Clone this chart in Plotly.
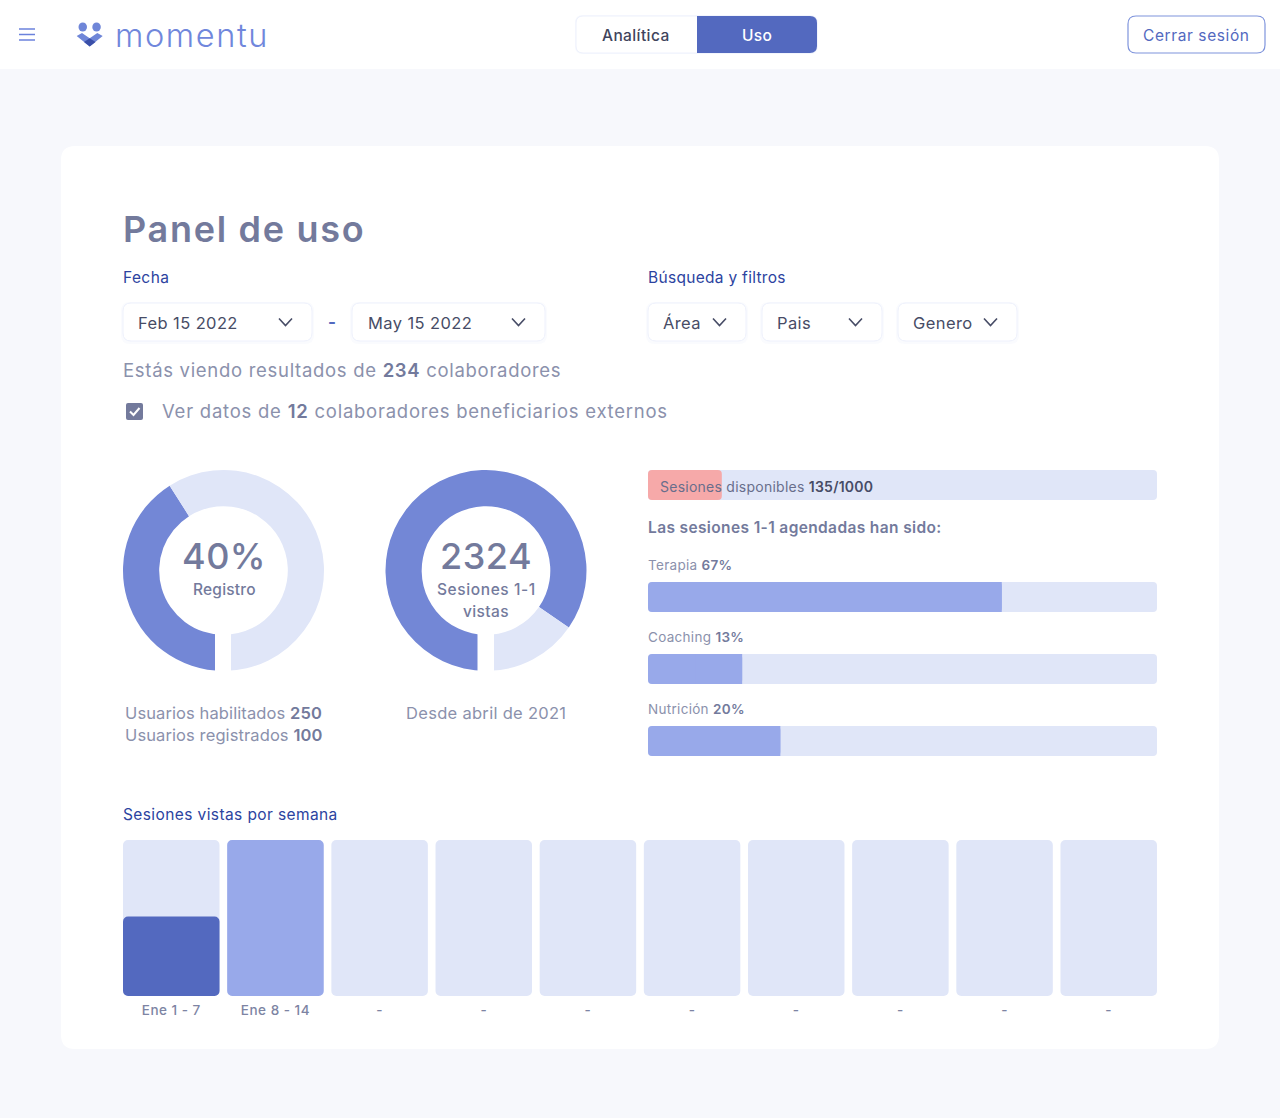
"""
Panel de uso (momentu): usage dashboard rebuilt as one Plotly figure.
The whole page is one pixel-sized axis, the charts are extra subplots on top of it.
"""
import plotly.graph_objects as go

W, H = 1280, 1118

# --- data ---
registro_vals = [41, 59]
sesiones_vals = [84.6, 15.4]

disponibles_fill = [14.5]
disponibles_track = [100]

tipo_labels = ["Terapia", "Coaching", "Nutrición"]
tipo_pct = ["67%", "13%", "20%"]
tipo_fill = [69.5, 18.5, 26]
tipo_track = [100, 100, 100]

semana_labels = ["Ene 1 - 7", "Ene 8 - 14", "-", "-", "-", "-", "-", "-", "-", "-"]
semana_track = [100, 100, 100, 100, 100, 100, 100, 100, 100, 100]
semana_vistas = [51, 100, 0, 0, 0, 0, 0, 0, 0, 0]
semana_colors = ["#5369bf", "#98a9ea", "#98a9ea", "#98a9ea", "#98a9ea",
                 "#98a9ea", "#98a9ea", "#98a9ea", "#98a9ea", "#98a9ea"]

# --- colours / fonts ---
BG = "#f7f8fc"
TRACK = "#e0e6f8"
DONUT = "#7387d6"
BAR = "#98a9ea"
NAVY = "#2c43a0"
GREY = "#737a9c"
SOFT = "#8b91ac"
INK = "#474c66"
FONT = "Inter"

fig = go.Figure()
annotations, shapes = [], []


def round_rect(x0, y0, x1, y1, r, fill=None, line=None, lw=1, layer="below", opacity=1, corners="tl tr br bl"):
    tl = r if "tl" in corners else 0
    tr = r if "tr" in corners else 0
    br = r if "br" in corners else 0
    bl = r if "bl" in corners else 0
    path = (f"M{x0 + tl},{y0} L{x1 - tr},{y0} Q{x1},{y0} {x1},{y0 + tr} "
            f"L{x1},{y1 - br} Q{x1},{y1} {x1 - br},{y1} "
            f"L{x0 + bl},{y1} Q{x0},{y1} {x0},{y1 - bl} "
            f"L{x0},{y0 + tl} Q{x0},{y0} {x0 + tl},{y0} Z")
    shapes.append(dict(type="path", path=path, xref="x", yref="y", layer=layer, opacity=opacity,
                       fillcolor=fill or "rgba(0,0,0,0)",
                       line=dict(color=line or "rgba(0,0,0,0)", width=lw if line else 0)))


def poly(path, fill=None, line=None, lw=1.5, layer="below"):
    shapes.append(dict(type="path", path=path, xref="x", yref="y", layer=layer,
                       fillcolor=fill or "rgba(0,0,0,0)",
                       line=dict(color=line or "rgba(0,0,0,0)", width=lw if line else 0)))


def text(x, y, s, size, color, anchor="left", spacing=0, weight=400, family=FONT):
    if spacing:
        s = f'<span style="letter-spacing:{spacing}px">{s}</span>'
    annotations.append(dict(x=x, y=y, xref="x", yref="y", text=s, showarrow=False,
                            xanchor=anchor, yanchor="middle", align=anchor,
                            borderpad=0, borderwidth=0,
                            font=dict(size=size, color=color, family=family, weight=weight)))


def b(s, color=None):
    style = "font-weight:600"
    if color:
        style += f";fill:{color}"
    return f'<span style="{style}">{s}</span>'


def chevron(x, y, color=INK):
    poly(f"M{x},{y - 3.5} L{x + 6.5},{y + 3.5} L{x + 13},{y - 3.5}", line=color, lw=1.6)


def dropdown(x0, x1, label, label_x, chev_x):
    round_rect(x0 - 2, 302, x1 + 2, 344, 9, fill="#e6eafb", opacity=0.2)
    round_rect(x0, 303, x1, 341, 8, fill="white", line="#eef1fc")
    text(label_x, 322.5, label, 16.5, INK, spacing=0.4)
    chevron(chev_x, 322)


# --- page chrome ---
shapes.append(dict(type="rect", xref="x", yref="y", x0=0, x1=W, y0=0, y1=69, layer="below",
                   fillcolor="white", line=dict(width=0)))
round_rect(61, 146, 1219, 1049, 14, fill="white")

for ly in (29, 34.5, 40):
    poly(f"M19,{ly} L35,{ly}", line="#6b82dc", lw=1.5)

# logo
shapes.append(dict(type="circle", xref="x", yref="y", x0=78.5, x1=87, y0=22.5, y1=31.5, layer="below",
                   fillcolor="#6f86d8", line=dict(width=0)))
shapes.append(dict(type="circle", xref="x", yref="y", x0=92.3, x1=100.8, y0=22.5, y1=31.5, layer="below",
                   fillcolor="#6f86d8", line=dict(width=0)))
poly("M76.7,36 L82,33 L89.7,38.3 L97.3,33 L102.7,36 L89.7,46.5 Z", fill="#6f86d8")
poly("M89.7,38.3 L95.5,42 L89.7,46.5 L84,42 Z", fill="#3a4fa8")
text(115, 35, "momentu", 32.5, "#7087dc", spacing=1.6, weight=300)

# toggle
round_rect(575, 15, 818, 54, 8, fill="#e6eafb", opacity=0.3)
round_rect(576, 16, 817, 53, 7, fill="white", line="#eef1fc")
round_rect(697, 16, 817, 53, 7, fill="#5369bf", corners="tr br")
text(635.5, 35, "Analítica", 15.5, "#3f445c", "center", 0.4, 500)
text(757, 35, "Uso", 15.5, "white", "center", 0.4, 500)

round_rect(1128, 16, 1265, 53, 8, fill="white", line="#7f94dc", lw=1.2)
text(1196, 35, "Cerrar sesión", 15.5, "#5369bf", "center", 0.6)

# header block
text(123, 229, "Panel de uso", 36, GREY, spacing=1.7, weight=600)
text(123, 277, "Fecha", 15.5, NAVY, spacing=0.4, weight=400)
text(648, 277, "Búsqueda y filtros", 15.5, NAVY, spacing=0.3, weight=400)

dropdown(123, 312, "Feb 15 2022", 138, 279)
dropdown(352, 545, "May 15 2022", 368, 512)
dropdown(648, 746, "Área", 663, 713)
dropdown(762, 882, "Pais", 777, 849)
dropdown(898, 1017, "Genero", 913, 984)
text(331.5, 322, "-", 17, "#5369bf", "center", weight=700)

text(123, 370, f"Estás viendo resultados de {b('234', GREY)} colaboradores", 18.5, SOFT, spacing=0.7)
round_rect(126, 403, 143, 420, 2, fill=GREY)
poly("M130,411.5 L133.5,415 L139.5,408", line="white", lw=2)
text(162, 411, f"Ver datos de {b('12', GREY)} colaboradores beneficiarios externos", 18.5, SOFT, spacing=0.76)

# donut captions
text(223.5, 556, "40%", 36, GREY, "center", 0.5, 500)
text(224, 589, "Registro", 15.5, GREY, "center", 0.2, 500)
text(486, 556, "2324", 36, GREY, "center", 0.5, 500)
text(486, 589, "Sesiones 1-1", 15.5, GREY, "center", 0.6, 500)
text(486, 611, "vistas", 15.5, GREY, "center", 0.4, 500)
text(223.5, 713, f"Usuarios habilitados {b('250', GREY)}", 16.5, SOFT, "center", 0.1)
text(223.5, 735, f"Usuarios registrados {b('100', GREY)}", 16.5, SOFT, "center", 0.1)
text(486, 713, "Desde abril de 2021", 16.5, SOFT, "center", 0.3)

# gaps cut out of the donuts at 6 o'clock
for gx0, gx1 in ((215, 231), (477.5, 494)):
    shapes.append(dict(type="rect", xref="x", yref="y", x0=gx0, x1=gx1, y0=628, y1=676, layer="above",
                       fillcolor="white", line=dict(width=0)))

# bar labels
text(660, 486, f"Sesiones disponibles {b('135/1000', INK)}", 14, "#686e8c", spacing=0.25)
text(648, 527.5, "Las sesiones 1-1 agendadas han sido:", 15.5, GREY, spacing=0.37, weight=600)
for name, pct, ly in zip(tipo_labels, tipo_pct, (564.5, 637, 709)):
    text(648, ly, f"{name} {b(pct, GREY)}", 13.5, SOFT, spacing=0.3)
text(123, 814.5, "Sesiones vistas por semana", 15.5, NAVY, spacing=0.4, weight=400)

# --- charts ---
def dom_x(x0, x1):
    return [x0 / W, x1 / W]


def dom_y(y0, y1):
    return [1 - y1 / H, 1 - y0 / H]


def donut(vals, x0, x1, y0, y1):
    fig.add_trace(go.Pie(values=vals, hole=0.64, sort=False, direction="clockwise", rotation=180,
                         marker=dict(colors=[DONUT, TRACK], line=dict(width=0)),
                         textinfo="none", hoverinfo="skip", showlegend=False,
                         domain=dict(x=dom_x(x0, x1), y=dom_y(y0, y1))))


donut(registro_vals, 123, 324, 470, 671)
donut(sesiones_vals, 385.5, 586.5, 470, 671)

# page axis, it only carries the chrome
fig.add_trace(go.Scatter(x=[0], y=[0], xaxis="x", yaxis="y", mode="none", hoverinfo="skip", showlegend=False))


def hbar(y, vals, color, xa, ya, width, square_end=False):
    # with a base set plotly rounds all four corners
    fig.add_trace(go.Bar(y=y, x=vals, base=[0] * len(vals), orientation="h", width=width,
                         marker=dict(color=color, line=dict(width=0), cornerradius=4),
                         xaxis=xa, yaxis=ya, hoverinfo="skip", showlegend=False))
    if square_end:
        half = [v / 2 for v in vals]
        fig.add_trace(go.Bar(y=y, x=half, base=half, orientation="h", width=width,
                             marker=dict(color=color, line=dict(width=0)),
                             xaxis=xa, yaxis=ya, hoverinfo="skip", showlegend=False))


hbar([0], disponibles_track, TRACK, "x2", "y2", 1)
hbar([0], disponibles_fill, "#f6a9a9", "x2", "y2", 1)

tipo_pos = list(range(len(tipo_labels)))
hbar(tipo_pos, tipo_track, TRACK, "x3", "y3", 30 / 72)
hbar(tipo_pos, tipo_fill, BAR, "x3", "y3", 30 / 72, square_end=True)

sem_pos = list(range(len(semana_labels)))
sem_width = 96.5 / 104.17
fig.add_trace(go.Bar(x=sem_pos, y=semana_track, base=[0] * len(sem_pos), width=sem_width,
                     marker=dict(color=TRACK, line=dict(width=0), cornerradius=5),
                     xaxis="x4", yaxis="y4", hoverinfo="skip", showlegend=False))
fig.add_trace(go.Bar(x=sem_pos, y=semana_vistas, base=[0] * len(sem_pos), width=sem_width,
                     marker=dict(color=semana_colors, line=dict(width=0), cornerradius=5),
                     xaxis="x4", yaxis="y4", hoverinfo="skip", showlegend=False))

tick_text = [f'<span style="letter-spacing:0.5px">{s}</span>' for s in semana_labels]

hidden = dict(visible=False, fixedrange=True)
fig.update_layout(
    width=W, height=H,
    margin=dict(l=0, r=0, t=0, b=0),
    paper_bgcolor=BG, plot_bgcolor="rgba(0,0,0,0)",
    barmode="overlay", showlegend=False,
    font=dict(family=FONT),
    xaxis=dict(range=[0, W], domain=[0, 1], **hidden),
    yaxis=dict(range=[H, 0], domain=[0, 1], **hidden),
    xaxis2=dict(range=[0, 100], domain=dom_x(648, 1157), anchor="y2", **hidden),
    yaxis2=dict(range=[-0.5, 0.5], domain=dom_y(470, 500), anchor="x2", **hidden),
    xaxis3=dict(range=[0, 100], domain=dom_x(648, 1157), anchor="y3", **hidden),
    yaxis3=dict(range=[2.5, -0.5], domain=dom_y(561, 777), anchor="x3", **hidden),
    xaxis4=dict(range=[-0.5, 9.5], domain=dom_x(119.2, 1160.8), anchor="y4", fixedrange=True,
                tickmode="array", tickvals=sem_pos, ticktext=tick_text,
                showgrid=False, zeroline=False, showline=False, ticks="", ticklabelstandoff=4,
                tickfont=dict(size=13.5, color="#7d84a3", family=FONT, weight=500)),
    yaxis4=dict(range=[0, 100], domain=dom_y(840, 996), anchor="x4", **hidden),
    shapes=shapes, annotations=annotations,
)

fig.write_html("out.html", config=dict(displayModeBar=False),
               post_script="document.body.style.margin='0';document.body.style.background='#f7f8fc';")
